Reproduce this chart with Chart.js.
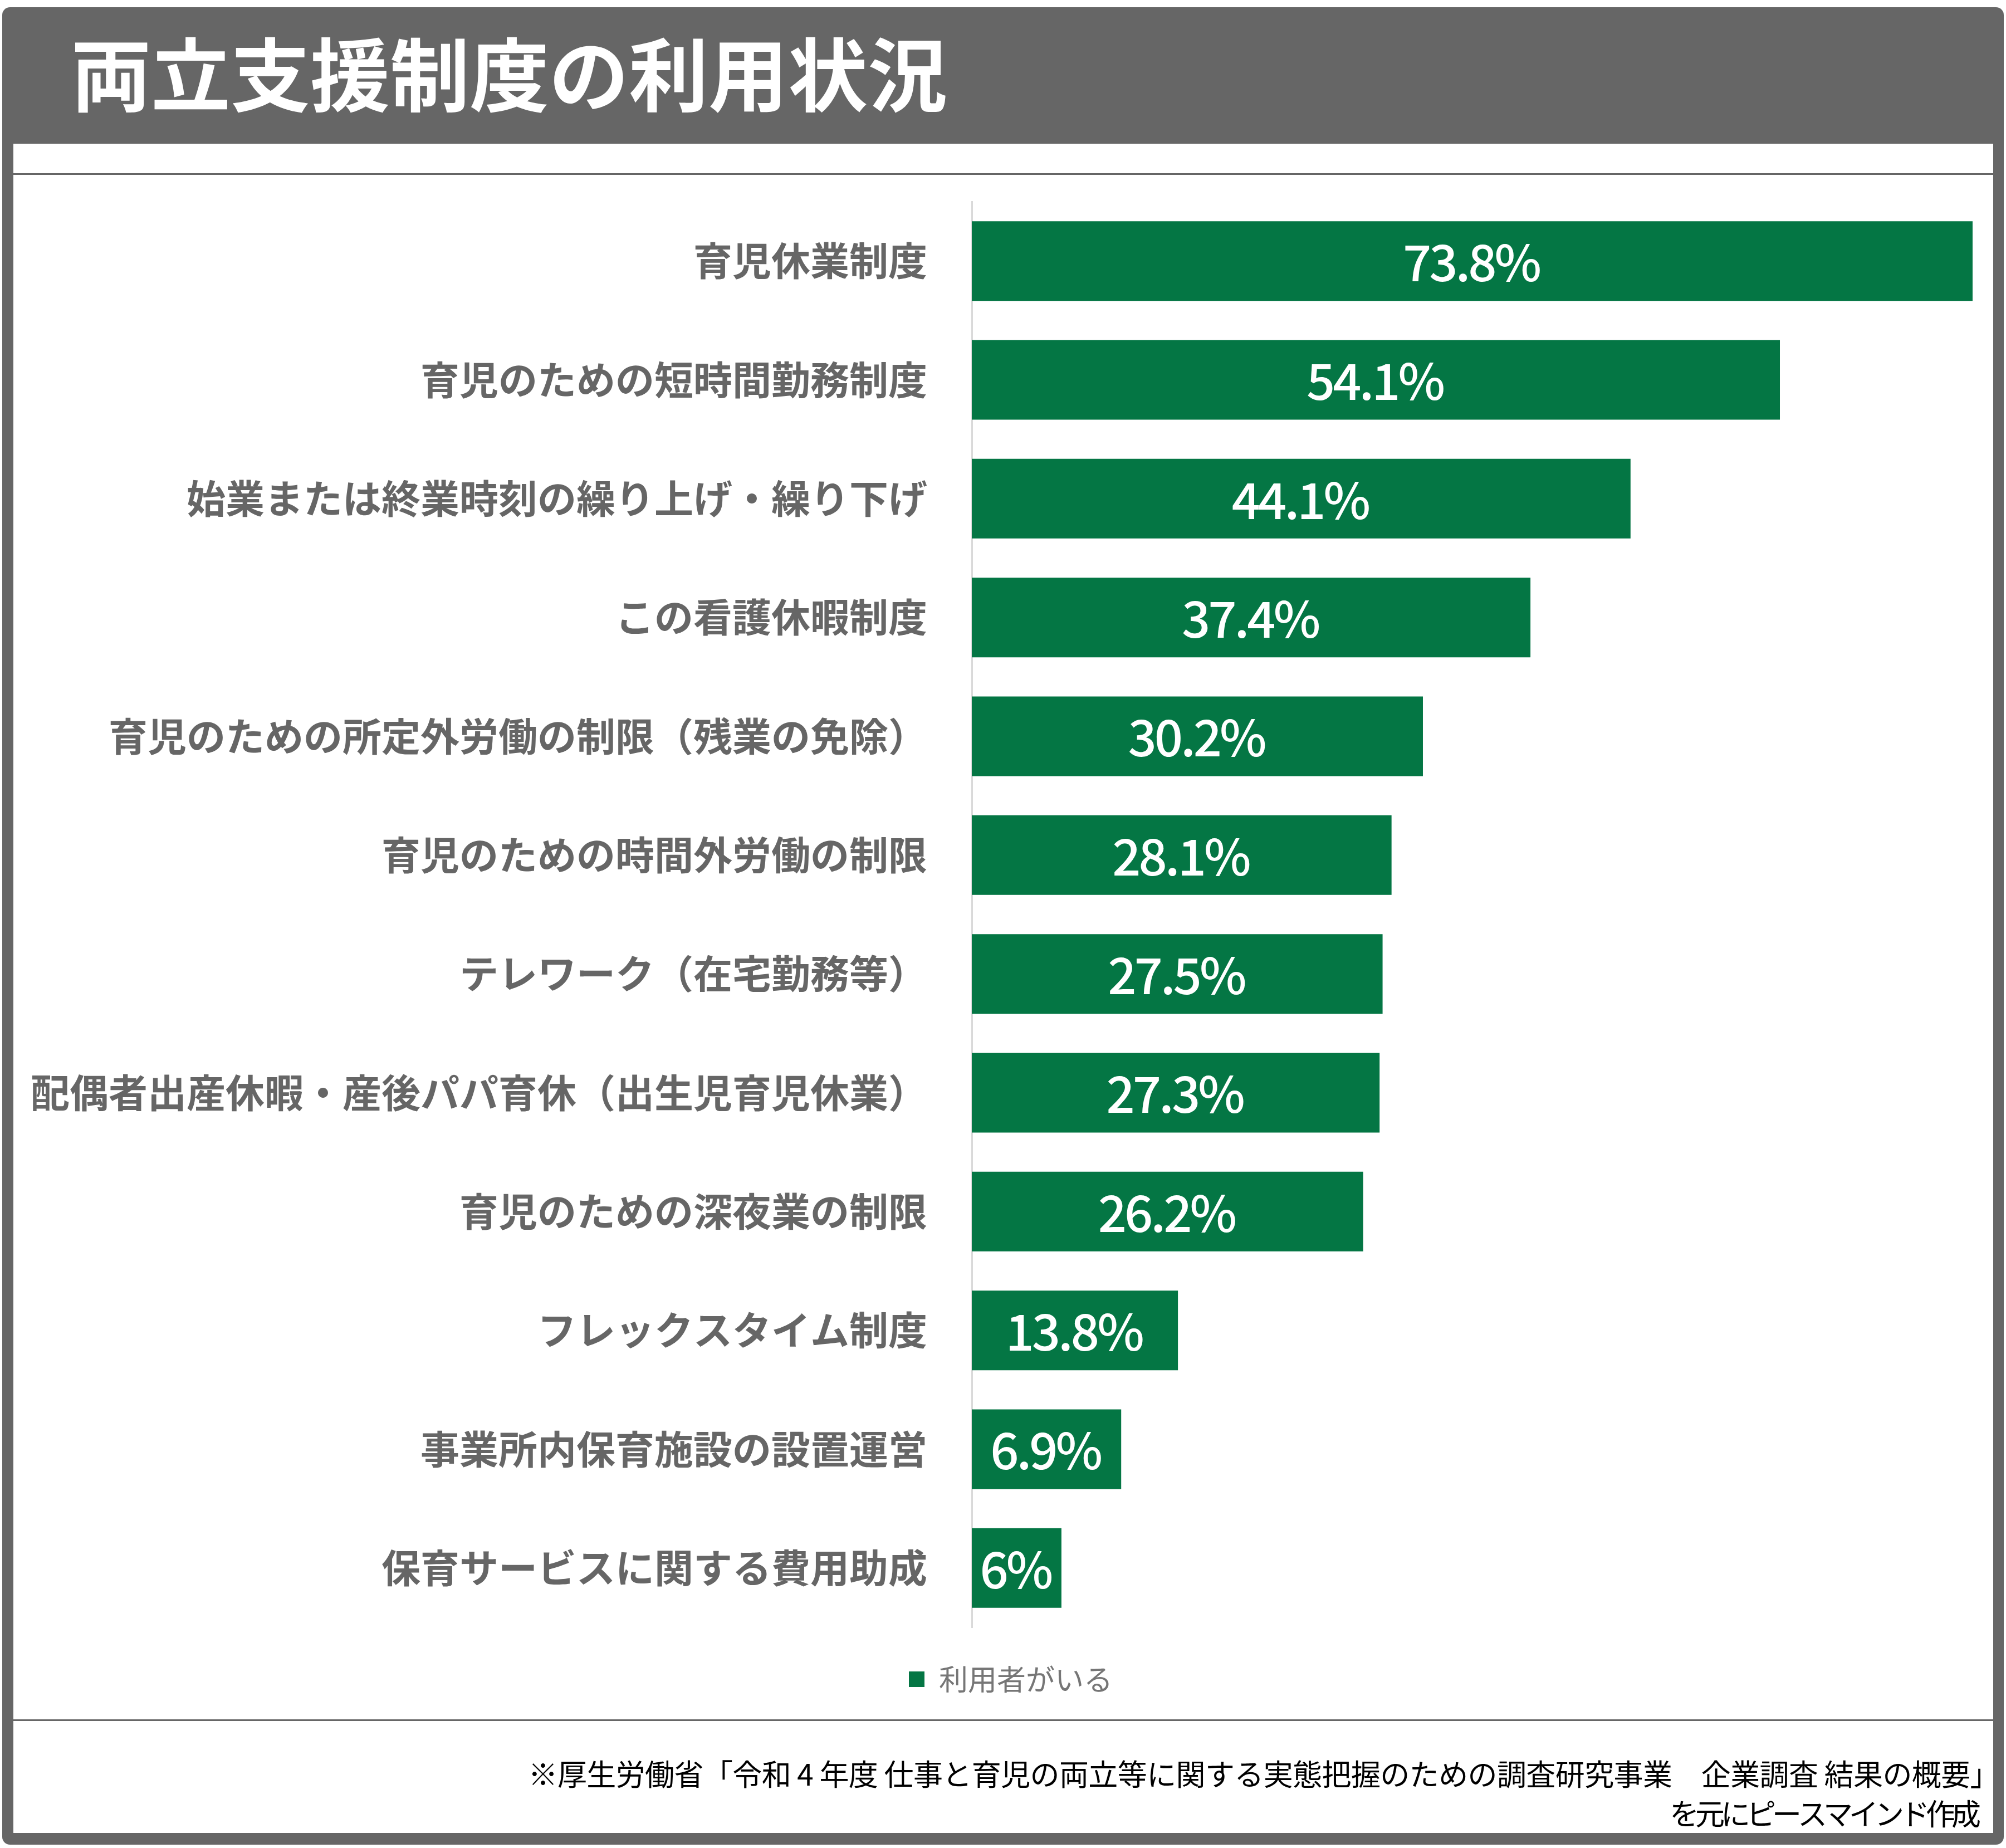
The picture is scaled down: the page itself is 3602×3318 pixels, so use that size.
<!DOCTYPE html>
<html>
<head>
<meta charset="utf-8">
<script src="https://cdn.jsdelivr.net/npm/chart.js@4.4.1/dist/chart.umd.min.js"></script>
<style>
  html, body { margin: 0; padding: 0; background: #ffffff; }
  #c { display: block; }
</style>
</head>
<body>
<canvas id="c" width="3602" height="3318"></canvas>
<script>
// ---- data ----
const titleText = '両立支援制度の利用状況';
const categories = [
  '育児休業制度',
  '育児のための短時間勤務制度',
  '始業または終業時刻の繰り上げ・繰り下げ',
  'この看護休暇制度',
  '育児のための所定外労働の制限（残業の免除）',
  '育児のための時間外労働の制限',
  'テレワーク（在宅勤務等）',
  '配偶者出産休暇・産後パパ育休（出生児育児休業）',
  '育児のための深夜業の制限',
  'フレックスタイム制度',
  '事業所内保育施設の設置運営',
  '保育サービスに関する費用助成'
];
// bar lengths as drawn in the picture (the 6.9% bar is drawn at about 10)
const barValues = [73.8, 54.1, 44.1, 37.4, 30.2, 28.1, 27.5, 27.3, 26.2, 13.8, 10.0, 6.0];
const valueLabels = ['73.8%', '54.1%', '44.1%', '37.4%', '30.2%', '28.1%', '27.5%', '27.3%', '26.2%', '13.8%', '6.9%', '6%'];
const seriesName = '利用者がいる';
const axisMin = 0;
const axisMax = 67;
const sourceLines = [
  '※厚生労働省「令和 4 年度 仕事と育児の両立等に関する実態把握のための調査研究事業　企業調査 結果の概要」',
  'を元にピースマインド作成'
];

// ---- styles ----
const GREEN = '#047644';
const FRAME = '#666666';
const JP = "'Noto Sans CJK JP', 'Noto Sans', sans-serif";

const framePlugin = {
  id: 'frame',
  afterLayout(chart) {
    // nudge the legend to sit where it does in the reference
    if (chart.legend) { chart.legend.left += 32; chart.legend.right += 32; }
  },
  beforeDraw(chart) {
    const ctx = chart.ctx;
    ctx.save();
    ctx.fillStyle = '#ffffff';
    ctx.fillRect(0, 0, chart.width, chart.height);
    ctx.fillStyle = FRAME;
    ctx.beginPath();
    ctx.roundRect(4, 13, 3594, 3299, 14);
    ctx.fill();
    ctx.fillStyle = '#ffffff';
    ctx.fillRect(24, 258, 3555, 3033);
    ctx.fillStyle = FRAME;
    ctx.fillRect(24, 311, 3555, 3);
    ctx.fillRect(24, 3087, 3555, 3);
    ctx.restore();
  },
  afterDraw(chart) {
    const ctx = chart.ctx;
    ctx.save();
    ctx.fillStyle = '#ffffff';
    ctx.font = 'bold 143px ' + JP;
    ctx.textAlign = 'left';
    ctx.textBaseline = 'alphabetic';
    ctx.fillText(titleText, 128, 189);
    ctx.fillStyle = '#000000';
    ctx.font = '53px ' + JP;
    ctx.textAlign = 'right';
    ctx.letterSpacing = '-0.6px';
    ctx.fillText(sourceLines[0], 3590, 3206);
    ctx.letterSpacing = '-7px';
    ctx.fillText(sourceLines[1], 3550, 3277);
    ctx.letterSpacing = '0px';
    ctx.restore();
  }
};

const valueLabelPlugin = {
  id: 'valueLabels',
  afterDatasetsDraw(chart) {
    const ctx = chart.ctx;
    const area = chart.chartArea;
    const meta = chart.getDatasetMeta(0);
    ctx.save();
    ctx.fillStyle = '#ffffff';
    ctx.font = '500 90px ' + JP;
    ctx.letterSpacing = '-4px';
    ctx.textAlign = 'center';
    ctx.textBaseline = 'middle';
    meta.data.forEach((bar, i) => {
      const p = bar.getProps(['x', 'y', 'base'], true);
      const a = Math.max(Math.min(p.base, p.x), area.left);
      const b = Math.min(Math.max(p.base, p.x), area.right);
      ctx.fillText(valueLabels[i], (a + b) / 2 - 2, p.y + 2);
    });
    ctx.letterSpacing = '0px';
    ctx.restore();
  }
};

new Chart(document.getElementById('c').getContext('2d'), {
  type: 'bar',
  data: {
    labels: categories,
    datasets: [{
      label: seriesName,
      data: barValues,
      backgroundColor: GREEN,
      borderWidth: 0,
      barPercentage: 0.67,
      categoryPercentage: 1.0,
      clip: 0
    }]
  },
  options: {
    indexAxis: 'y',
    responsive: false,
    animation: false,
    devicePixelRatio: 1,
    layout: { padding: { left: 24, right: 60, top: 362, bottom: 267 } },
    scales: {
      x: { display: false, min: axisMin, max: axisMax },
      y: {
        afterFit(scale) { scale.width = 1721; },
        grid: { display: false, drawTicks: false },
        border: { display: true, color: '#d9d9d9', width: 3 },
        ticks: {
          padding: 80,
          color: '#666666',
          autoSkip: false,
          font: { family: JP, size: 70, weight: 'bold' }
        }
      }
    },
    plugins: {
      legend: {
        display: true,
        position: 'bottom',
        labels: {
          boxWidth: 28,
          boxHeight: 28,
          padding: 67,
          color: '#767676',
          font: { family: JP, size: 52 }
        }
      },
      tooltip: { enabled: false }
    }
  },
  plugins: [framePlugin, valueLabelPlugin]
});
</script>
</body>
</html>
